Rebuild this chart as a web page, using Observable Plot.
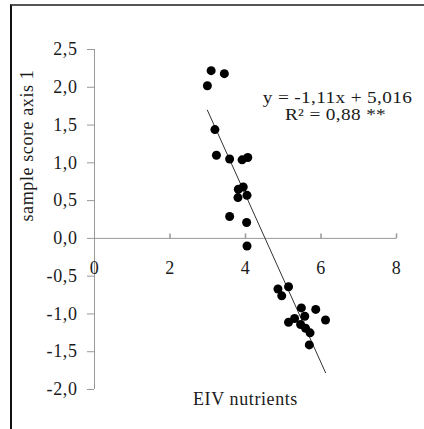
<!DOCTYPE html>
<html>
<head>
<meta charset="utf-8">
<script src="https://cdn.jsdelivr.net/npm/d3@7"></script>
<script src="https://cdn.jsdelivr.net/npm/@observablehq/plot@0.6"></script>
<style>
  html, body { margin: 0; padding: 0; background: #fff; overflow: hidden; }
  #wrap { position: relative; width: 424px; height: 429px; }
  #frame { position: absolute; left: 10px; top: 4px; width: 440px; height: 440px;
           border-top: 2px solid #555; border-left: 2px solid #111; pointer-events: none; }
  svg { display: block; }
  svg text { letter-spacing: 0.6px; }
  svg g.eq text { letter-spacing: 0.3px; }
</style>
</head>
<body>
<div id="wrap"><div id="frame"></div></div>
<script>
// EIV nutrients (x) vs sample score axis 1 (y)
const eivNutrients = [2.99, 3.09, 3.44, 3.19, 3.23, 3.58, 3.91, 4.06, 3.81, 3.94, 3.80, 4.04,
  3.58, 4.03, 4.04, 4.86, 4.96, 5.14, 5.48, 5.86, 6.12, 5.14, 5.30, 5.57, 5.46, 5.59, 5.71, 5.69];
const sampleScore = [2.02, 2.22, 2.18, 1.44, 1.10, 1.05, 1.04, 1.07, 0.65, 0.68, 0.54, 0.57,
  0.29, 0.21, -0.10, -0.67, -0.76, -0.64, -0.92, -0.94, -1.08, -1.11, -1.06, -1.03, -1.14, -1.19, -1.25, -1.41];

// regression: y = slope * x + intercept
const slope = -1.11;
const intercept = 5.016;
const equationLines = ["y = -1,11x + 5,016", "R² = 0,88 **"];

const xTicks = [0, 2, 4, 6, 8];
const yTicks = [-2, -1.5, -1, -0.5, 0, 0.5, 1, 1.5, 2, 2.5];
const xLabel = "EIV nutrients";
const yLabel = "sample score axis 1";

const points = eivNutrients.map((x, i) => ({x, y: sampleScore[i]}));
const fitX = d3.extent(eivNutrients);

const axisGray = "#999";
const ink = "#1a1a1a";
const upTick = { draw(ctx) { ctx.moveTo(0, 0); ctx.lineTo(0, -5); } };
const fmt = d => d.toFixed(1).replace(".", ",");

const chart = Plot.plot({
  width: 424,
  height: 429,
  marginLeft: 94,
  marginRight: 28,
  marginTop: 49,
  marginBottom: 40,
  x: { domain: [0, 8], axis: null },
  y: { domain: [-2, 2.5], axis: null },
  style: { fontFamily: "'Liberation Serif', 'Times New Roman', serif", fontSize: "18px", color: ink, background: "transparent" },
  marks: [
    Plot.ruleX([0], { y1: -2, y2: 2.5, stroke: axisGray }),
    Plot.ruleY([0], { x1: 0, x2: 8, stroke: axisGray }),
    Plot.axisY({ ticks: yTicks, tickFormat: fmt, tickSize: 7, tickPadding: 10, stroke: axisGray, fill: ink, fontSize: 18, label: null }),
    Plot.dot(xTicks.filter(d => d > 0), { x: d => d, y: 0, symbol: upTick, stroke: axisGray, fill: "none", r: 3 }),
    Plot.text(xTicks, { x: d => d, y: 0, text: d => String(d), dy: 30, fill: ink, fontSize: 18 }),
    Plot.line(fitX, { x: d => d, y: d => slope * d + intercept, stroke: "#333", strokeWidth: 1 }),
    Plot.dot(points, { x: "x", y: "y", r: 4.5, fill: "#000", stroke: "none" }),
    Plot.text([equationLines[0]], { frameAnchor: "top-right", textAnchor: "middle", lineAnchor: "middle", dx: -59, dy: 48, fill: ink, fontSize: 16.5, className: "eq" }),
    Plot.text([equationLines[1]], { frameAnchor: "top-right", textAnchor: "middle", lineAnchor: "middle", dx: -61, dy: 65.5, fill: ink, fontSize: 16.5, className: "eq" }),
    Plot.text([xLabel], { frameAnchor: "bottom", lineAnchor: "middle", dy: 10, fill: ink, fontSize: 18 }),
    Plot.text([yLabel], { frameAnchor: "left", rotate: -90, lineAnchor: "middle", dx: -67, dy: 2, fill: ink, fontSize: 18 })
  ]
});
document.getElementById("wrap").prepend(chart);

// stretch the equation text horizontally, as in the reference
d3.select(chart).selectAll("g.eq text").each(function () {
  const b = this.getBBox();
  const cx = b.x + b.width / 2, cy = b.y + b.height / 2;
  const t = this.getAttribute("transform") || "";
  this.setAttribute("transform", `${t} translate(${cx},${cy}) scale(1.17,1) translate(${-cx},${-cy})`);
});
</script>
</body>
</html>
